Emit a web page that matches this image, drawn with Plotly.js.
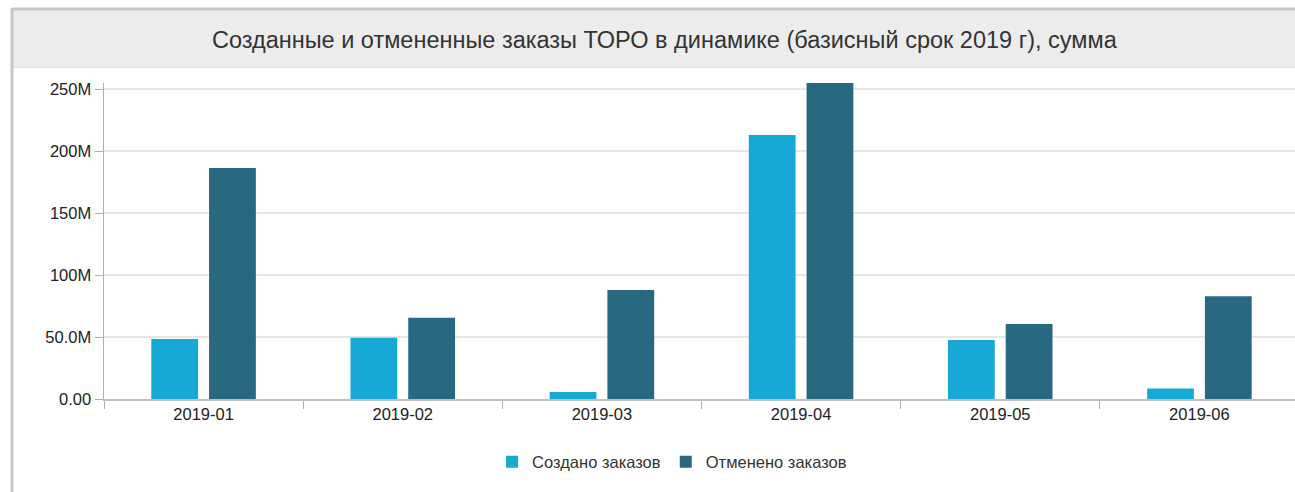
<!DOCTYPE html>
<html>
<head>
<meta charset="utf-8">
<script src="https://cdn.plot.ly/plotly-3.0.1.min.js"></script>
<style>
html,body{margin:0;padding:0;background:#fff;overflow:hidden;}
#chart{width:1295px;height:492px;}
</style>
</head>
<body>
<div id="chart"></div>
<script>
const categories = ["2019-01","2019-02","2019-03","2019-04","2019-05","2019-06"];
const createdValues = [48.5e6, 49.5e6, 5.6e6, 213e6, 47.6e6, 8.5e6];
const canceledValues = [186.5e6, 65.5e6, 88e6, 255e6, 60.5e6, 83e6];
const seriesNames = ["Создано заказов", "Отменено заказов"];
const yTickVals = [0, 50e6, 100e6, 150e6, 200e6, 250e6];
const yTickText = ["0.00", "50.0M", "100M", "150M", "200M", "250M"];
const titleText = "Созданные и отмененные заказы ТОРО в динамике (базисный срок 2019 г), сумма";

const font = "Liberation Sans, Arial, sans-serif";

const traces = [
  {type:"bar", x:categories, y:createdValues, name:seriesNames[0],
   marker:{color:"#17a9d5"}, hoverinfo:"skip"},
  {type:"bar", x:categories, y:canceledValues, name:seriesNames[1],
   marker:{color:"#286881"}, hoverinfo:"skip"}
];

const plotW = 1295 - 104, plotH = 316;
const px = v => (v - 104) / plotW;
const py = v => 1 + (83 - v) / plotH;

const layout = {
  width:1295, height:492,
  margin:{l:104, r:0, t:83, b:93},
  paper_bgcolor:"#ffffff", plot_bgcolor:"#ffffff",
  font:{family:font, size:16.5, color:"#333333"},
  barmode:"group", bargap:0.42, bargroupgap:0.19,
  showlegend:true,
  legend:{orientation:"h", x:0.477, xanchor:"center", y:py(462), yanchor:"middle",
          font:{size:16.5, color:"#333333"}, itemwidth:30, tracegroupgap:0},
  title:{text:titleText, font:{family:font, size:23.5, color:"#333333"},
         x:0.513, xanchor:"center", y:1-40/492, yanchor:"middle", xref:"container", yref:"container"},
  xaxis:{type:"category", range:[-0.5, 5.48], tickson:"boundaries",
         ticks:"outside", ticklen:8, tickcolor:"#b0b0b0",
         showline:true, linecolor:"#c0c0c0", linewidth:1.5,
         showgrid:false, tickfont:{size:16.5, color:"#222222"}, fixedrange:true},
  yaxis:{range:[0, 255e6], tickvals:yTickVals, ticktext:yTickText,
         ticks:"outside", ticklen:8, tickcolor:"#b0b0b0",
         showline:true, linecolor:"#b0b0b0", linewidth:1.5,
         showgrid:true, gridcolor:"#e6e6e6", gridwidth:1.5, zeroline:false,
         tickfont:{size:16.5, color:"#222222"}, fixedrange:true},
  shapes:[
    {type:"rect", xref:"paper", yref:"paper", x0:px(12), x1:px(1300), y0:py(67), y1:py(9),
     fillcolor:"#ececec", line:{width:0}, layer:"below"},
    {type:"line", xref:"paper", yref:"paper", x0:px(12), x1:px(1300), y0:py(9), y1:py(9),
     line:{color:"#c8c8c8", width:3}},
    {type:"line", xref:"paper", yref:"paper", x0:px(12), x1:px(1300), y0:py(67.5), y1:py(67.5),
     line:{color:"#dddddd", width:1}},
    {type:"line", xref:"paper", yref:"paper", x0:px(12), x1:px(12), y0:py(8), y1:py(500),
     line:{color:"#c8c8c8", width:3}}
  ]
};

Plotly.newPlot("chart", traces, layout, {displayModeBar:false, staticPlot:true});
</script>
</body>
</html>
